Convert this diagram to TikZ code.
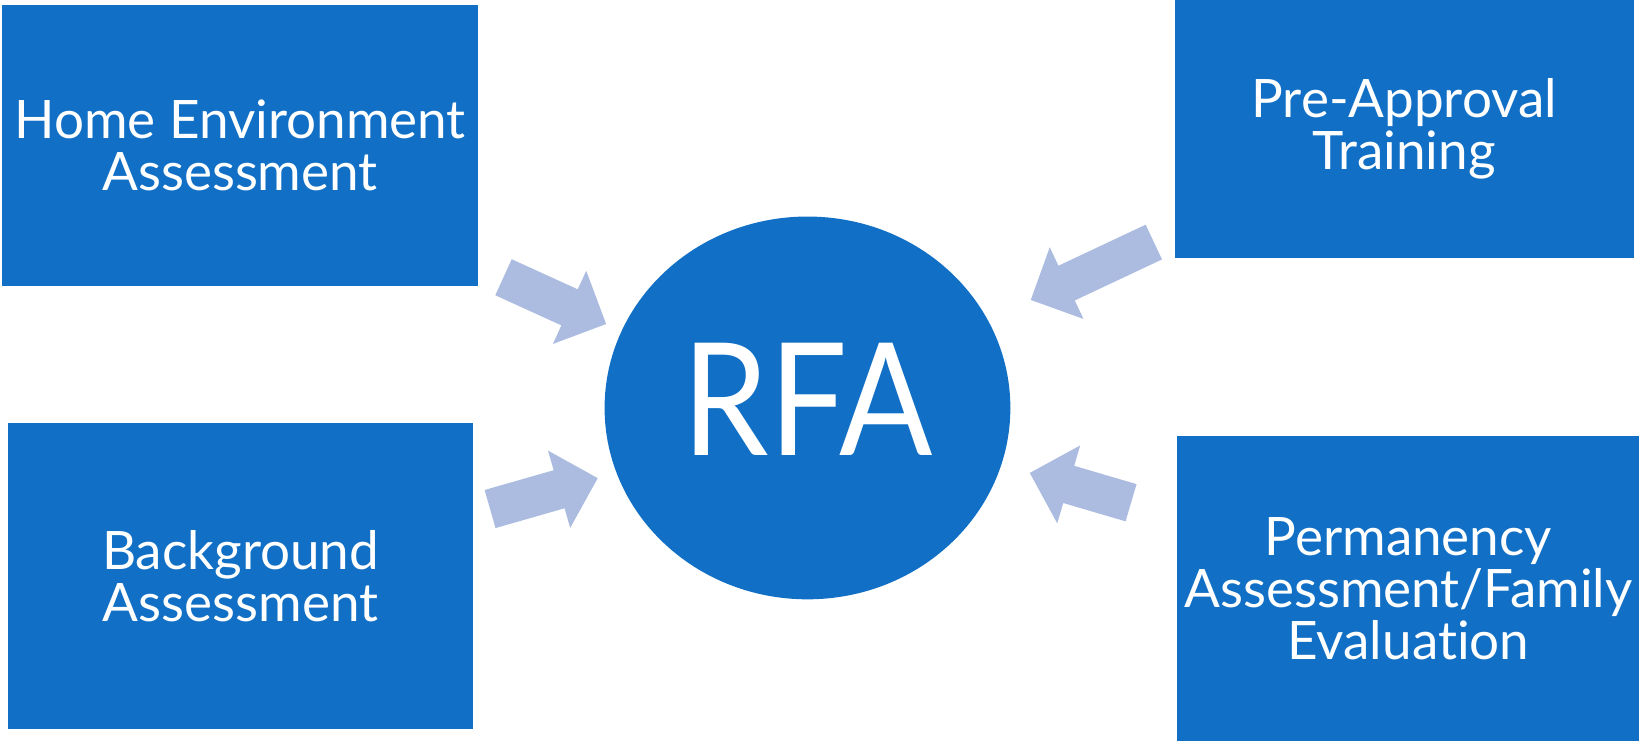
\documentclass[tikz,border=0pt]{standalone}
\usepackage{fontspec}
\setmainfont{Lato}[Ligatures=NoCommon]
\newfontfamily\rfafont{Lato}[FakeStretch=0.88]
\usepackage{tikz}
\usetikzlibrary{shapes.arrows,shapes.geometric,positioning}
\definecolor{boxblue}{HTML}{1170C6}
\definecolor{arrowblue}{HTML}{ABBCE0}
\begin{document}
\begin{tikzpicture}[x=0.523pt,y=-0.523pt,
		topic/.style={rectangle,fill=boxblue,text=white,inner sep=0pt,align=center,font=\fontsize{26.5}{26}\selectfont},
		flow/.style={single arrow,fill=arrowblue,anchor=tip,inner xsep=0pt,inner ysep=9.7pt,single arrow head extend=10.2pt}]
		\useasboundingbox (0,0) rectangle (1567,708.5);
		% the four parts
		\node[topic,minimum width=238pt,minimum height=140.2pt] (home) at (229.5,139) {Home Environment\\Assessment};
		\node[topic,minimum width=232.2pt,minimum height=152.7pt] (back) at (230,550.5) {Background\\Assessment};
		\node[topic,minimum width=229.6pt,minimum height=129.2pt] (train) at (1342.5,123.5) {Pre-Approval\\Training};
		\node[topic,minimum width=231.7pt,minimum height=152.2pt] (perm) at (1346.5,562.5) {Permanency\\Assessment/Family\\Evaluation};
		% centre
		\node[ellipse,fill=boxblue,text=white,inner sep=0pt,minimum width=202.9pt,minimum height=191.4pt,font=\rfafont\fontsize{78.4}{80}\selectfont] (rfa) at (772,390) {\raisebox{8.5pt}{RFA}};
		% arrows, placed by their tips
		\node[flow,rotate=-24.5,minimum height=56.4pt] (a1) at (580,310) {};
		\node[flow,rotate=16,minimum height=56pt] (a2) at (572,457) {};
		\node[flow,rotate=-154.8,minimum height=68pt,inner ysep=9.4pt] (a3) at (985,287) {};
		\node[flow,rotate=163.6,minimum height=52.8pt,inner ysep=9.5pt,single arrow head extend=10.6pt] (a4) at (984,452) {};
	\end{tikzpicture}
\end{document}
